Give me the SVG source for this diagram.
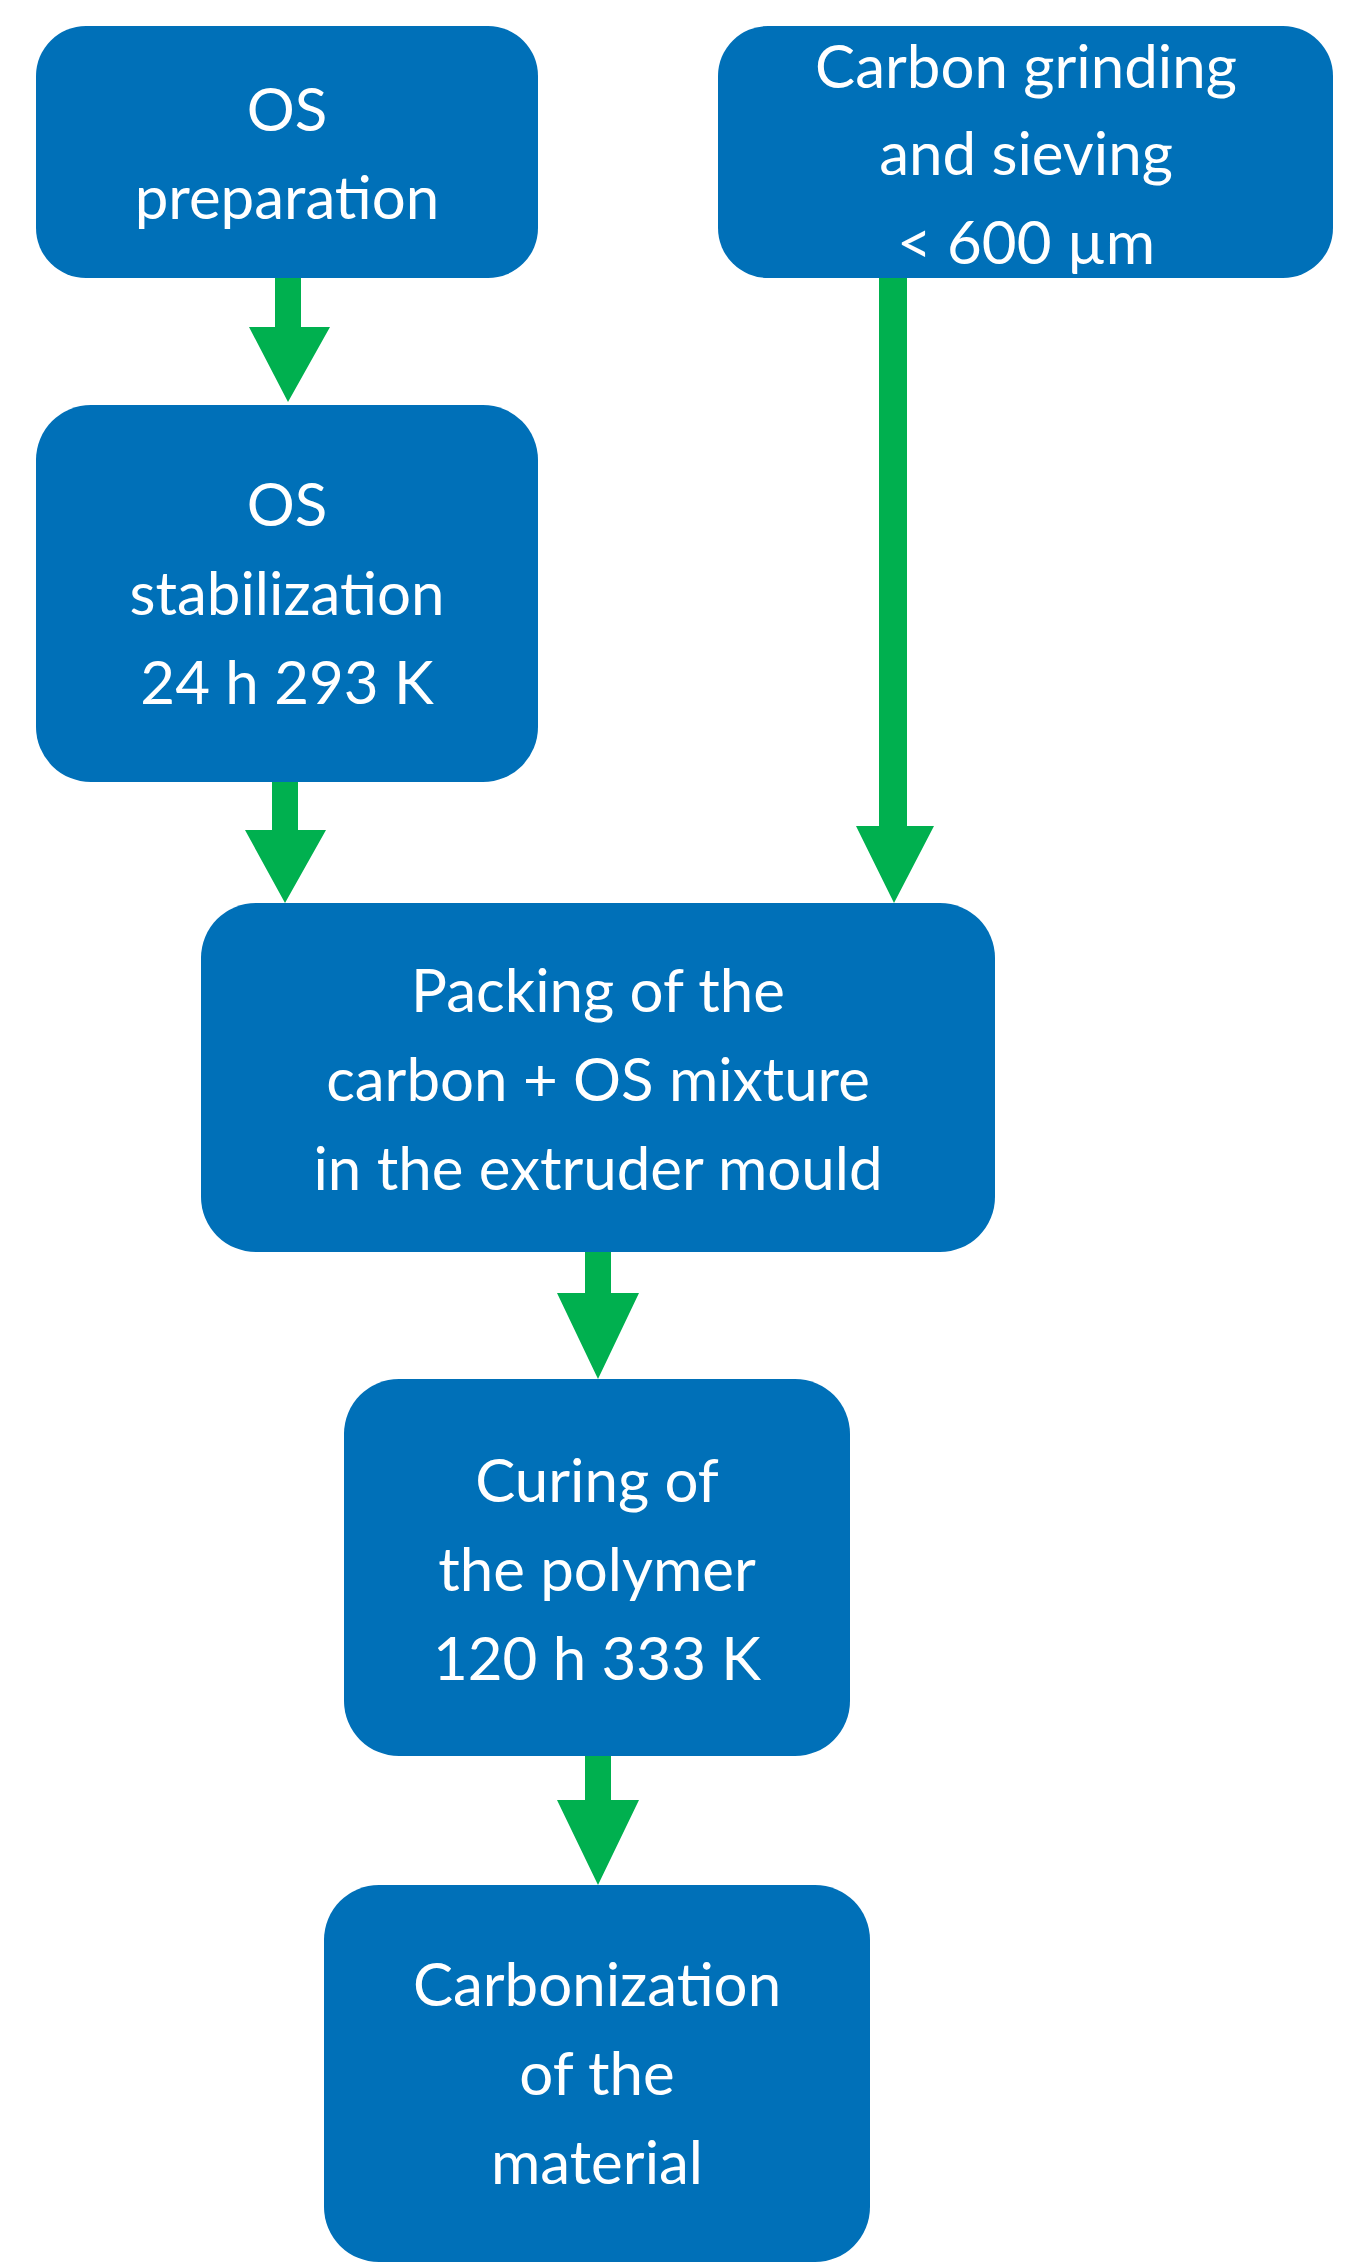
<svg xmlns="http://www.w3.org/2000/svg" width="1366" height="2265" viewBox="0 0 1366 2265">
<style>
.b{fill:#0070B8;}
.t{font-family:Lato,"Open Sans",sans-serif;font-size:60px;fill:#fff;text-anchor:middle;}
.a{fill:#00B04F;}
</style>
<rect width="1366" height="2265" fill="#fff"/>
<g id="connectors">
<path class="a" d="M275,278 H301 V327 H330 L288,402 L249,327 H275 Z"/>
<path class="a" d="M272,782 H298 V830 H326 L285,903 L245,830 H272 Z"/>
<path class="a" d="M879,278 H907 V826 H934 L894,903 L856,826 H879 Z"/>
<path class="a" d="M585,1252 H611 V1293 H639 L598,1379 L557,1293 H585 Z"/>
<path class="a" d="M585,1756 H611 V1800 H639 L598,1885 L557,1800 H585 Z"/>
</g>
<g id="n1"><rect class="b" x="36" y="26" width="502" height="252" rx="50"/>
<text class="t" x="287" y="131">OS</text><text class="t" x="287" y="219">preparation</text></g>
<g id="n2"><rect class="b" x="718" y="26" width="615" height="252" rx="50"/>
<text class="t" x="1026" y="88">Carbon grinding</text><text class="t" x="1026" y="175">and sieving</text><text class="t" x="1026" y="264">&lt; 600 µm</text></g>
<g id="n3"><rect class="b" x="36" y="405" width="502" height="377" rx="55"/>
<text class="t" x="287" y="526">OS</text><text class="t" x="287" y="615">stabilization</text><text class="t" x="287" y="704">24 h 293 K</text></g>
<g id="n4"><rect class="b" x="201" y="903" width="794" height="349" rx="55"/>
<text class="t" x="598" y="1012">Packing of the</text><text class="t" x="598" y="1101">carbon + OS mixture</text><text class="t" x="598" y="1190">in the extruder mould</text></g>
<g id="n5"><rect class="b" x="344" y="1379" width="506" height="377" rx="55"/>
<text class="t" x="597" y="1502">Curing of</text><text class="t" x="597" y="1591">the polymer</text><text class="t" x="597" y="1680">120 h 333 K</text></g>
<g id="n6"><rect class="b" x="324" y="1885" width="546" height="377" rx="55"/>
<text class="t" x="597" y="2006">Carbonization</text><text class="t" x="597" y="2095">of the</text><text class="t" x="597" y="2184">material</text></g>
</svg>
